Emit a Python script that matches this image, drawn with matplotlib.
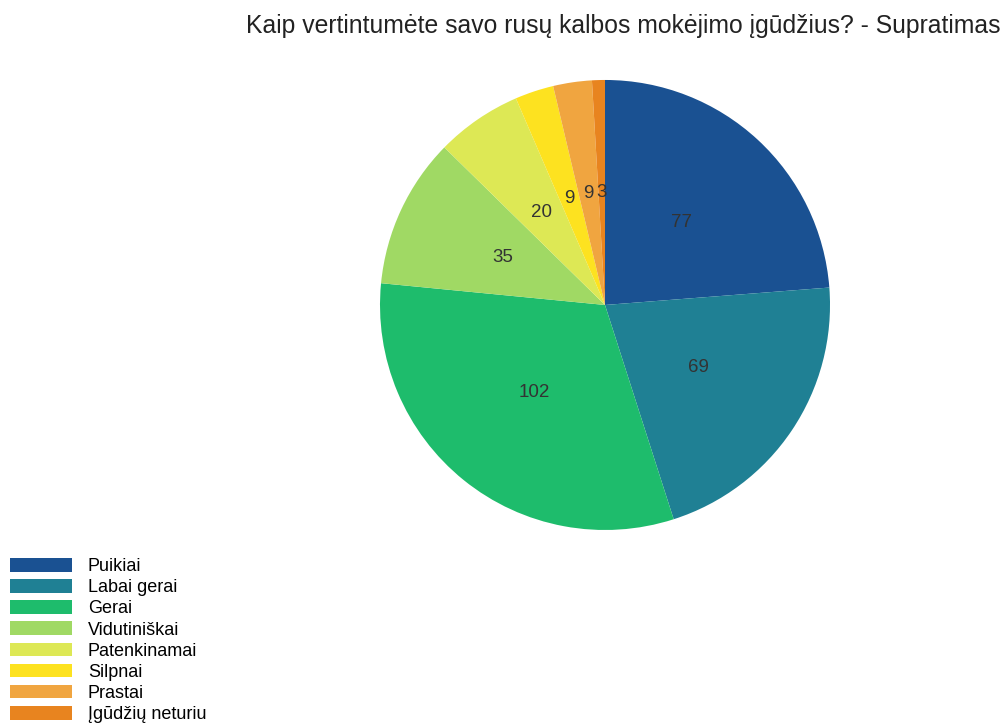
import matplotlib
matplotlib.use('Agg')
from matplotlib import pyplot as plt
from matplotlib.patches import Patch

plt.rcParams['font.family'] = ['Liberation Sans', 'DejaVu Sans']

# atsakymai ir jų skaičiai
labels = ['Puikiai', 'Labai gerai', 'Gerai', 'Vidutiniškai', 'Patenkinamai',
          'Silpnai', 'Prastai', 'Įgūdžių neturiu']
counts = [77, 69, 102, 35, 20, 9, 9, 3]
colors = ['#1a5192', '#1f8094', '#1ebc6c', '#a0d964', '#dde855',
          '#fde220', '#f0a540', '#e8841f']

fig = plt.figure(figsize=(10.01, 7.27), dpi=100)

ax = fig.add_axes([0.3796, 0.271, 0.4496, 0.619])
wedges, texts = ax.pie(counts, colors=colors, startangle=90, counterclock=False,
                       labels=[str(c) for c in counts], labeldistance=0.5,
                       textprops={'fontsize': 13.5, 'color': '#333333'},
                       wedgeprops={'linewidth': 0})
for t in texts:
    t.set_ha('center')
    t.set_va('center')
ax.set_xlim(-1, 1)
ax.set_ylim(-1, 1)
ax.set_aspect('equal')

fig.text(0.9995, 0.964, 'Kaip vertintumėte savo rusų kalbos mokėjimo įgūdžius? - Supratimas',
         ha='right', va='center', fontsize=17.85, color='#222222')

# legenda apačioje kairėje
handles = [Patch(facecolor=c, edgecolor='none') for c in colors]
fig.legend(handles, labels, loc='lower left', bbox_to_anchor=(-0.003, -0.012),
           frameon=False, fontsize=13, handlelength=3.44, handleheight=0.78,
           labelspacing=0.225, handletextpad=0.9, borderaxespad=0.3)

fig.savefig('out.png', dpi=100)
